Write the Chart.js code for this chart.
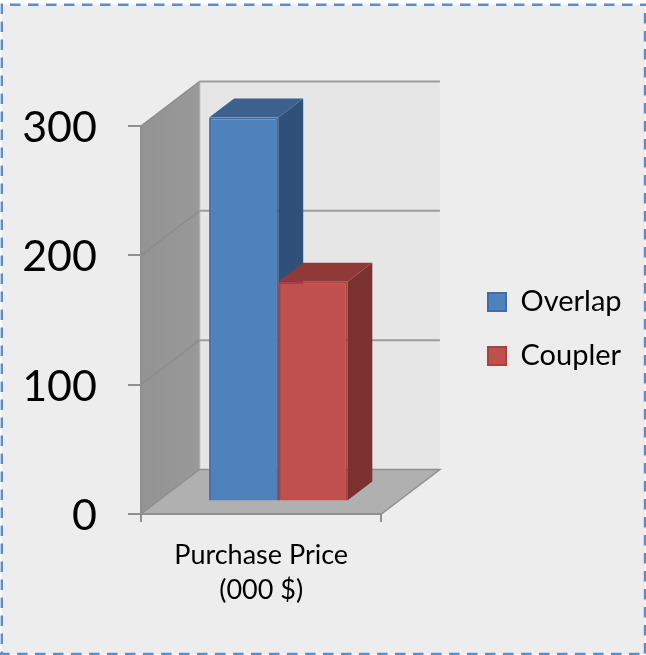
<!DOCTYPE html>
<html>
<head>
<meta charset="utf-8">
<script src="https://cdn.jsdelivr.net/npm/chart.js@4"></script>
<style>
  html, body { margin: 0; padding: 0; background: #fff; }
  canvas { display: block; }
</style>
</head>
<body>
<canvas id="myChart" width="646" height="655"></canvas>
<script>
const categories = [['Purchase Price', '(000 $)']];
const overlapValues = [297];
const couplerValues = [170];
const yMax = 300;
const yStep = 100;

// depth of the box and of the bars, in pixels
const wallDx = 58.5, wallDy = 44.5;
const barShiftX = 17, barShiftY = 12.5;
const barDx = 25, barDy = 19;

function poly(ctx, pts, fill, stroke, lw) {
  ctx.beginPath();
  pts.forEach((p, i) => (i ? ctx.lineTo(p[0], p[1]) : ctx.moveTo(p[0], p[1])));
  ctx.closePath();
  ctx.fillStyle = fill;
  ctx.fill();
  if (stroke) {
    ctx.strokeStyle = stroke;
    ctx.lineWidth = lw || 1;
    ctx.stroke();
  }
}

function dashed(ctx, x1, y1, x2, y2) {
  ctx.beginPath();
  ctx.moveTo(x1, y1);
  ctx.lineTo(x2, y2);
  ctx.stroke();
}

const box3d = {
  id: 'box3d',
  afterLayout(chart) {
    // the legend sits apart from the plot, so pin it after the layout
    const lg = chart.legend;
    const dx = 463 - lg.left;
    const dy = 329 - (lg.top + lg.bottom) / 2;
    lg.left += dx; lg.right += dx; lg.top += dy; lg.bottom += dy;
  },
  beforeDraw(chart) {
    const ctx = chart.ctx;
    const a = chart.chartArea;
    const y = chart.scales.y;
    ctx.save();
    // card
    ctx.fillStyle = '#ededed';
    ctx.fillRect(1.5, 4.5, 644, 650);
    ctx.strokeStyle = '#5b8ecb';
    ctx.lineWidth = 2.4;
    ctx.setLineDash([10.5, 7.5]);
    dashed(ctx, 10, 4.8, 646, 4.8);
    dashed(ctx, 1.8, 3.5, 1.8, 655);
    dashed(ctx, -1, 654, 646, 654);
    dashed(ctx, 645, 13, 645, 655);
    ctx.setLineDash([]);
    // back wall
    poly(ctx, [[a.left + wallDx, a.top - wallDy], [a.right + wallDx, a.top - wallDy], [a.right + wallDx, a.bottom - wallDy], [a.left + wallDx, a.bottom - wallDy]], '#e6e6e6');
    // left wall
    const g = ctx.createLinearGradient(a.left, 0, a.left + wallDx, 0);
    g.addColorStop(0, '#939393');
    g.addColorStop(1, '#999999');
    poly(ctx, [[a.left, a.top], [a.left + wallDx, a.top - wallDy], [a.left + wallDx, a.bottom - wallDy], [a.left, a.bottom]], g);
    ctx.strokeStyle = '#adadad';
    ctx.lineWidth = 1.5;
    ctx.beginPath();
    ctx.moveTo(a.left + wallDx, a.top - wallDy);
    ctx.lineTo(a.left + wallDx, a.bottom - wallDy);
    ctx.stroke();
    // floor
    poly(ctx, [[a.left, a.bottom], [a.right, a.bottom], [a.right + wallDx, a.bottom - wallDy], [a.left + wallDx, a.bottom - wallDy]], '#b0b0b0');
    ctx.strokeStyle = '#8f8f8f';
    ctx.lineWidth = 1.5;
    ctx.beginPath();
    ctx.moveTo(a.left, a.bottom);
    ctx.lineTo(a.left + wallDx, a.bottom - wallDy);
    ctx.lineTo(a.right + wallDx, a.bottom - wallDy);
    ctx.lineTo(a.right, a.bottom);
    ctx.stroke();
    // grid lines across both walls
    y.ticks.forEach(t => {
      const py = y.getPixelForValue(t.value);
      if (t.value === 0) return;
      ctx.strokeStyle = '#8c8c8c';
      ctx.lineWidth = 1.5;
      ctx.beginPath();
      ctx.moveTo(a.left, py);
      ctx.lineTo(a.left + wallDx, py - wallDy);
      ctx.stroke();
      ctx.strokeStyle = '#9c9c9c';
      ctx.lineWidth = 2;
      ctx.beginPath();
      ctx.moveTo(a.left + wallDx, py - wallDy);
      ctx.lineTo(a.right + wallDx, py - wallDy);
      ctx.stroke();
    });
    ctx.restore();
  },
  beforeDatasetsDraw(chart) {
    const ctx = chart.ctx;
    chart.data.datasets.forEach((ds, i) => {
      const b = chart.getDatasetMeta(i).data[0];
      const l = b.x - b.width / 2 + barShiftX;
      const r = b.x + b.width / 2 + barShiftX;
      const t = b.y - barShiftY;
      const bot = b.base - barShiftY;
      poly(ctx, [[r, t], [r + barDx, t - barDy], [r + barDx, bot - barDy], [r, bot]], ds.sideColor);
      poly(ctx, [[l, t], [l + barDx, t - barDy], [r + barDx, t - barDy], [r, t]], ds.topColor);
    });
    ctx.save();
    ctx.translate(barShiftX, -barShiftY);
  },
  afterDatasetsDraw(chart) {
    chart.ctx.restore();
  }
};

new Chart(document.getElementById('myChart'), {
  type: 'bar',
  data: {
    labels: categories,
    datasets: [
      { label: 'Overlap', data: overlapValues, backgroundColor: '#4f81bd', borderColor: '#3f6ea6', borderWidth: 2, sideColor: '#2f5179', topColor: '#3c618f' },
      { label: 'Coupler', data: couplerValues, backgroundColor: '#c0504d', borderColor: '#a8423f', borderWidth: 2, sideColor: '#7b312f', topColor: '#8f3a37' }
    ]
  },
  options: {
    responsive: false,
    animation: false,
    events: [],
    layout: { padding: { top: 126, right: 96, bottom: 0, left: 0 } },
    datasets: { bar: { categoryPercentage: 0.575, barPercentage: 1 } },
    scales: {
      x: {
        grid: { offset: true, drawOnChartArea: false, color: '#8f8f8f', lineWidth: 2, tickLength: 8 },
        border: { color: '#8f8f8f', width: 2 },
        ticks: { color: '#000', font: { family: 'Lato', size: 27, lineHeight: 1.28 }, padding: 16, maxRotation: 0 },
        afterFit(s) { s.height = 141; }
      },
      y: {
        min: 0,
        max: yMax,
        grid: { drawOnChartArea: false, color: '#8f8f8f', lineWidth: 2, tickLength: 13 },
        border: { color: '#8f8f8f', width: 2 },
        ticks: { stepSize: yStep, color: '#000', font: { family: 'Lato', size: 43 }, padding: 31, labelOffset: 2 },
        afterFit(s) { s.width = 141; }
      }
    },
    plugins: {
      tooltip: { enabled: false },
      title: { display: false },
      legend: {
        position: 'right',
        maxWidth: 190,
        labels: { color: '#000', font: { family: 'Lato', size: 29 }, boxWidth: 18, boxHeight: 18, padding: 25 }
      }
    }
  },
  plugins: [box3d]
});
</script>
</body>
</html>
